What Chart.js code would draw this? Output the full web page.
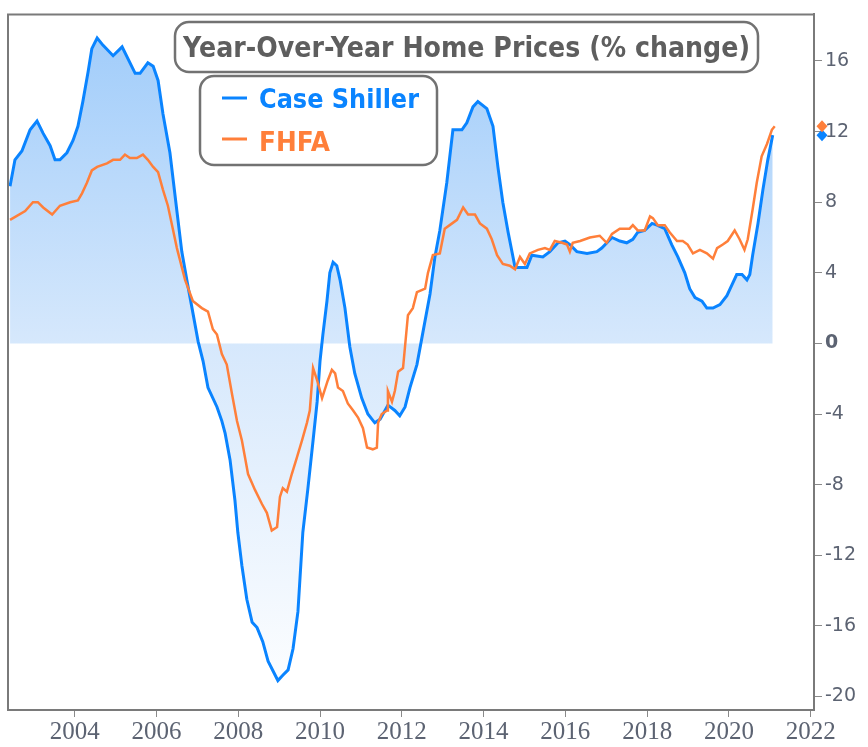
<!DOCTYPE html>
<html>
<head>
<meta charset="utf-8">
<script src="https://cdn.jsdelivr.net/npm/chart.js@4.4.1/dist/chart.umd.min.js"></script>
<style>
  html, body { margin: 0; padding: 0; background: #fff; }
</style>
</head>
<body>
<canvas id="myChart" width="868" height="747"></canvas>
<script>
// data block (decimal years)
const csYears = [2002.42, 2002.54, 2002.71, 2002.91, 2003.08, 2003.23, 2003.40, 2003.52, 2003.64, 2003.81,
  2003.96, 2004.08, 2004.20, 2004.33, 2004.42, 2004.55, 2004.69, 2004.94, 2005.16, 2005.48,
  2005.60, 2005.79, 2005.92, 2006.04, 2006.16, 2006.33, 2006.50, 2006.62, 2006.75, 2006.87,
  2007.02, 2007.14, 2007.26, 2007.48, 2007.60, 2007.68, 2007.80, 2007.92, 2007.99, 2008.09,
  2008.21, 2008.34, 2008.46, 2008.60, 2008.73, 2008.97, 2009.09, 2009.22, 2009.34, 2009.46,
  2009.58, 2009.70, 2009.83, 2009.93, 2010.00, 2010.07, 2010.17, 2010.24, 2010.32, 2010.41,
  2010.49, 2010.61, 2010.73, 2010.85, 2011.02, 2011.17, 2011.34, 2011.47, 2011.66, 2011.83,
  2011.95, 2012.08, 2012.20, 2012.37, 2012.49, 2012.69, 2012.81, 2012.93, 2013.10, 2013.25,
  2013.47, 2013.59, 2013.74, 2013.86, 2014.08, 2014.23, 2014.35, 2014.47, 2014.60, 2014.77,
  2015.06, 2015.18, 2015.45, 2015.62, 2015.82, 2015.99, 2016.11, 2016.28, 2016.53, 2016.77,
  2016.89, 2017.14, 2017.33, 2017.50, 2017.65, 2017.77, 2017.94, 2018.12, 2018.24, 2018.43,
  2018.60, 2018.75, 2018.92, 2019.04, 2019.17, 2019.34, 2019.46, 2019.61, 2019.78, 2019.95,
  2020.07, 2020.19, 2020.32, 2020.44, 2020.51, 2020.58, 2020.71, 2020.83, 2020.95, 2021.07];
const csValues = [8.9, 10.4, 10.9, 12.1, 12.6, 11.9, 11.2, 10.4, 10.4, 10.8,
  11.5, 12.3, 13.7, 15.4, 16.7, 17.3, 16.9, 16.3, 16.8, 15.3,
  15.3, 15.9, 15.7, 14.9, 13.0, 10.8, 7.5, 5.2, 3.5, 2.0,
  0.1, -1.0, -2.5, -3.6, -4.4, -5.1, -6.6, -8.9, -10.7, -12.6,
  -14.5, -15.8, -16.1, -16.9, -18.0, -19.1, -18.8, -18.5, -17.3, -15.2,
  -10.7, -8.3, -5.5, -3.3, -1.0, 0.5, 2.4, 4.0, 4.6, 4.4,
  3.6, 2.0, -0.2, -1.7, -3.1, -4.0, -4.5, -4.3, -3.5, -3.8,
  -4.1, -3.6, -2.5, -1.2, 0.3, 2.8, 4.9, 6.4, 9.1, 12.1,
  12.1, 12.5, 13.4, 13.7, 13.3, 12.3, 10.0, 8.0, 6.3, 4.3,
  4.3, 5.0, 4.9, 5.2, 5.7, 5.8, 5.6, 5.2, 5.1, 5.2,
  5.4, 6.0, 5.8, 5.7, 5.9, 6.3, 6.4, 6.8, 6.7, 6.5,
  5.6, 4.9, 4.0, 3.1, 2.6, 2.4, 2.0, 2.0, 2.2, 2.7,
  3.3, 3.9, 3.9, 3.6, 3.9, 5.0, 6.8, 8.7, 10.4, 11.8];

const fhfaYears = [2002.42, 2002.79, 2002.98, 2003.10, 2003.23, 2003.45, 2003.64, 2003.89, 2004.08, 2004.18,
  2004.30, 2004.42, 2004.55, 2004.79, 2004.94, 2005.11, 2005.23, 2005.35, 2005.52, 2005.67,
  2005.79, 2005.92, 2006.04, 2006.16, 2006.28, 2006.40, 2006.50, 2006.70, 2006.89, 2007.11,
  2007.26, 2007.38, 2007.48, 2007.60, 2007.72, 2007.85, 2007.97, 2008.09, 2008.24, 2008.41,
  2008.58, 2008.70, 2008.82, 2008.95, 2009.02, 2009.09, 2009.19, 2009.31, 2009.43, 2009.56,
  2009.68, 2009.75, 2009.83, 2009.93, 2010.05, 2010.19, 2010.29, 2010.37, 2010.44, 2010.56,
  2010.68, 2010.81, 2010.93, 2011.05, 2011.15, 2011.29, 2011.39, 2011.42, 2011.51, 2011.64,
  2011.66, 2011.76, 2011.83, 2011.91, 2012.03, 2012.15, 2012.27, 2012.37, 2012.57, 2012.64,
  2012.76, 2012.93, 2013.05, 2013.23, 2013.35, 2013.50, 2013.62, 2013.79, 2013.91, 2014.08,
  2014.20, 2014.33, 2014.47, 2014.64, 2014.77, 2014.89, 2015.01, 2015.13, 2015.33, 2015.50,
  2015.62, 2015.74, 2015.92, 2016.04, 2016.11, 2016.18, 2016.36, 2016.60, 2016.84, 2017.01,
  2017.14, 2017.33, 2017.57, 2017.65, 2017.77, 2017.94, 2018.07, 2018.14, 2018.26, 2018.43,
  2018.55, 2018.73, 2018.87, 2018.99, 2019.12, 2019.29, 2019.46, 2019.61, 2019.71, 2019.85,
  2019.97, 2020.14, 2020.26, 2020.38, 2020.46, 2020.58, 2020.68, 2020.80, 2020.93, 2021.05,
  2021.12];
const fhfaValues = [7.0, 7.5, 8.0, 8.0, 7.7, 7.3, 7.8, 8.0, 8.1, 8.5,
  9.1, 9.8, 10.0, 10.2, 10.4, 10.4, 10.7, 10.5, 10.5, 10.7,
  10.4, 10.0, 9.7, 8.7, 7.8, 6.5, 5.4, 3.6, 2.4, 2.0,
  1.8, 0.8, 0.5, -0.6, -1.2, -2.9, -4.4, -5.5, -7.4, -8.3,
  -9.1, -9.6, -10.6, -10.4, -8.7, -8.2, -8.4, -7.4, -6.5, -5.5,
  -4.5, -3.8, -1.4, -2.1, -3.1, -2.1, -1.5, -1.7, -2.5, -2.7,
  -3.4, -3.8, -4.2, -4.8, -5.9, -6.0, -5.9, -4.5, -4.0, -3.8,
  -2.7, -3.3, -2.7, -1.6, -1.4, 1.6, 2.0, 2.9, 3.1, 4.0,
  5.0, 5.1, 6.5, 6.8, 7.0, 7.7, 7.3, 7.3, 6.8, 6.5,
  5.9, 5.0, 4.5, 4.4, 4.2, 4.9, 4.5, 5.1, 5.3, 5.4,
  5.3, 5.8, 5.7, 5.6, 5.2, 5.7, 5.8, 6.0, 6.1, 5.7,
  6.2, 6.5, 6.5, 6.7, 6.4, 6.4, 7.2, 7.1, 6.7, 6.7,
  6.3, 5.8, 5.8, 5.6, 5.1, 5.3, 5.1, 4.8, 5.4, 5.6,
  5.8, 6.4, 5.9, 5.3, 5.9, 7.6, 9.1, 10.6, 11.3, 12.1,
  12.3];

const xTickYears = [2004, 2006, 2008, 2010, 2012, 2014, 2016, 2018, 2020, 2022];
const yTickValues = [-20, -16, -12, -8, -4, 0, 4, 8, 12, 16];
const seriesNames = ["Case Shiller", "FHFA"];
const titleText = "Year-Over-Year Home Prices (% change)";

const BLUE = "#0a84ff";
const ORANGE = "#ff7f3a";
const GRAY = "#5c6372";

const toPoints = (xs, ys) => xs.map((x, i) => ({ x: x, y: ys[i] }));

// fill: blue at the top fading to white at the bottom
function areaFill(ctx) {
  const chart = ctx.chart;
  const a = chart.chartArea;
  if (!a) return "rgba(10,132,255,0.2)";
  const g = chart.ctx.createLinearGradient(0, a.top, 0, a.bottom);
  const zero = (chart.scales.y.getPixelForValue(0) - a.top) / (a.bottom - a.top);
  g.addColorStop(0, "rgb(158,203,250)");
  g.addColorStop(zero, "rgb(214,232,252)");
  g.addColorStop(1, "rgb(255,255,255)");
  return g;
}

function roundBox(c, x, y, w, h, r) {
  c.beginPath();
  c.moveTo(x + r, y);
  c.arcTo(x + w, y, x + w, y + h, r);
  c.arcTo(x + w, y + h, x, y + h, r);
  c.arcTo(x, y + h, x, y, r);
  c.arcTo(x, y, x + w, y, r);
  c.closePath();
  c.fillStyle = "#fff";
  c.fill();
  c.lineWidth = 2.5;
  c.strokeStyle = "#727272";
  c.stroke();
}

function squeezedText(c, text, x, y, font, width, color) {
  c.save();
  c.font = font;
  const w = c.measureText(text).width;
  c.translate(x, y);
  c.scale(width / w, 1);
  c.fillStyle = color;
  c.textBaseline = "alphabetic";
  c.textAlign = "left";
  c.fillText(text, 0, 0);
  c.restore();
}

// frame, title box, legend box and end-of-series diamonds
const decorations = {
  id: "decorations",
  afterDraw(chart) {
    const c = chart.ctx;
    const a = chart.chartArea;
    c.save();
    c.strokeStyle = "#7a7a7a";
    c.lineWidth = 2;
    c.beginPath();
    c.moveTo(a.left, a.bottom);
    c.lineTo(a.left, a.top);
    c.lineTo(a.right, a.top);
    c.stroke();

    // last-value diamonds on the right axis
    const ys = chart.scales.y;
    [0, 1].forEach(i => {
      const ds = chart.data.datasets[i];
      const last = ds.data[ds.data.length - 1].y;
      const py = ys.getPixelForValue(last);
      const px = ys.left + 8;
      c.beginPath();
      c.moveTo(px, py - 6);
      c.lineTo(px + 5.5, py);
      c.lineTo(px, py + 6);
      c.lineTo(px - 5.5, py);
      c.closePath();
      c.fillStyle = ds.borderColor;
      c.fill();
    });

    // title box
    roundBox(c, 175, 22, 583, 50, 14);
    squeezedText(c, titleText, 183, 57, "bold 29px 'DejaVu Sans'", 567, "#5e5e5e");

    // legend box
    roundBox(c, 200, 76, 237, 89, 14);
    const items = [
      { name: seriesNames[0], color: BLUE, ly: 98, ty: 108, w: 160 },
      { name: seriesNames[1], color: ORANGE, ly: 139, ty: 151, w: 71 }
    ];
    items.forEach(it => {
      c.strokeStyle = it.color;
      c.lineWidth = 3;
      c.beginPath();
      c.moveTo(222, it.ly);
      c.lineTo(247, it.ly);
      c.stroke();
      squeezedText(c, it.name, 259, it.ty, "bold 27px 'DejaVu Sans'", it.w, it.color);
    });
    c.restore();
  }
};

const data = {
  datasets: [
    {
      label: seriesNames[0],
      data: toPoints(csYears, csValues),
      borderColor: BLUE,
      borderWidth: 3,
      backgroundColor: areaFill,
      fill: "origin",
      pointRadius: 0,
      tension: 0,
      order: 2
    },
    {
      label: seriesNames[1],
      data: toPoints(fhfaYears, fhfaValues),
      borderColor: ORANGE,
      borderWidth: 2.5,
      fill: false,
      pointRadius: 0,
      tension: 0,
      order: 1
    }
  ]
};

const config = {
  type: "line",
  data: data,
  options: {
    responsive: false,
    animation: false,
    layout: { padding: { left: 8, top: 10, right: 0, bottom: 0 } },
    plugins: {
      legend: { display: false },
      title: { display: false },
      tooltip: { enabled: false },
      filler: { drawTime: "beforeDatasetsDraw" }
    },
    scales: {
      x: {
        type: "linear",
        min: 2002.37,
        max: 2022.08,
        afterBuildTicks: s => { s.ticks = xTickYears.map(v => ({ value: v })); },
        afterFit: s => { s.height = 37; },
        ticks: {
          callback: v => String(v),
          color: GRAY,
          font: { family: "'Liberation Sans Narrow'", size: 25 },
          padding: 0,
          maxRotation: 0,
          autoSkip: false
        },
        grid: { drawOnChartArea: false, drawTicks: true, tickLength: 7, color: "#8a8a8a" },
        border: { display: true, color: "#7a7a7a", width: 2 }
      },
      y: {
        position: "right",
        min: -20.77,
        max: 18.64,
        afterBuildTicks: s => { s.ticks = yTickValues.map(v => ({ value: v })); },
        afterFit: s => { s.width = 54; },
        ticks: {
          callback: v => String(v),
          color: GRAY,
          font: ctx => ({
            family: "'DejaVu Sans'",
            size: 19,
            weight: ctx.tick && ctx.tick.value === 0 ? "bold" : "normal"
          }),
          padding: 3
        },
        grid: { drawOnChartArea: false, drawTicks: true, tickLength: 8, color: "#8a8a8a" },
        border: { display: true, color: "#7a7a7a", width: 2 }
      }
    }
  },
  plugins: [decorations]
};

const myChart = new Chart(document.getElementById("myChart"), config);
</script>
</body>
</html>
